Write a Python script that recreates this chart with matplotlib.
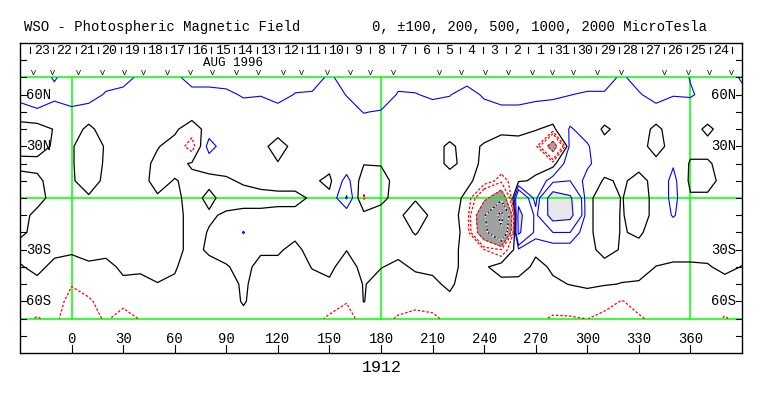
import numpy as np
import matplotlib.pyplot as plt

plt.rcParams['font.family'] = ['Liberation Mono', 'DejaVu Sans Mono']

# grid of the synoptic map (microTesla)
lons = np.arange(-30, 391, 10)
lats = np.arange(70, -71, -10)

lat70 = [150, 150, 90, 150, 150, 150, 150, 70, 70, 70, 150, 150, 150, 150, 150, 150, 150, 150, 80, 150, 150, 150,
         150, 150, 150, 150, 150, 150, 150, 150, 150, 150, 150, 150, 150, 80, 150, 150, 150, 95, 80, 80, 105]
lat60 = [150, 180, 130, 190, 150, 88, 60, 40, 40, 40, 60, 60, 75, 112, 105, 150, 94, 88, 40, 105, 185, 190,
         88, 94, 120, 105, 50, 117, 175, 175, 133, 120, 102, 88, 88, 40, 88, 150, 105, 110, 70, 70, 90]
lat50 = [40, 80, 50, 60, 50, 50, 50, 50, 50, 50, 50, 50, 50, 50, 50, 50, 50, 50, 50, 50, 105, 90,
         50, 50, 50, 50, 50, 50, 50, 50, 50, 50, 50, 50, 50, 50, 50, 50, 50, 50, 50, 50, 50]
lat40 = [-30, -40, 5, 40, -20, 40, 40, 40, 40, 15, -50, 40, 40, 40, 40, 40, 40, 40, 40, 40, 40, 40,
         40, 40, 40, 40, 40, 40, 10, 20, 5, -20, 110, 60, -15, 30, 40, -20, 40, 40, -20, 40, 40]
lat30 = [-20, -30, 10, 10, -60, 10, 30, 30, 5, -30, -150, 150, 30, 30, 30, -40, 30, 30, 30, 30, 30, 30,
         30, 30, 30, -15, 30, -10, -20, -30, -60, -700, 150, 110, 30, 30, 30, -30, 30, 30, 30, 30, 30]
lat20 = [15, 20, 30, 10, -60, 15, 30, 30, -20, -30, 10, 30, 30, 30, 30, 5, 30, 30, 30, 30, 5, 5,
         30, 30, 30, -15, 20, -10, -20, -30, -40, -40, 180, 120, 40, 30, 20, 20, 90, -10, -10, 30, 30]
lat10 = [-20, -15, 30, 10, -40, 20, 30, 30, -30, 5, -20, -20, -10, 10, 30, 30, 30, 15, -20, 140, -60, -30,
         30, 30, 30, 30, 10, -20, -150, -20, 20, 150, 200, 60, -10, 10, -20, 20, 130, -20, -20, 20, 30]
lat0 = [-30, -20, 20, 30, 10, 30, 30, 30, 10, 20, -30, 20, -30, -30, -30, -20, -20, 10, 20, 210, -110, -20,
        30, 10, 30, 20, -10, -400, -800, 400, 50, 700, 550, 20, -40, 3, -30, 20, 130, 10, 10, 30, 30]
latm10 = [-20, 15, 30, 30, 30, 30, 30, 30, 30, 30, -30, -10, 10, 20, 20, 20, 20, 30, 30, 30, 30, 30,
          20, -50, 20, 20, -20, -900, -2300, 600, 150, 650, 600, 20, -40, 5, -30, 20, 110, 30, 30, 30, 30]
latm20 = [-10, 15, 30, 30, 30, 30, 30, 30, 30, 30, -30, 5, 30, 105, 30, 30, 20, 30, 30, 30, 30, 30,
          30, -5, 30, 30, -20, -800, -1800, 550, 150, 200, 200, 20, -40, 5, -10, 30, 30, 30, 30, 30, 30]
latm30 = [20, 30, 15, 10, 20, 15, 30, 30, 30, 20, -20, 10, 25, 30, 10, 10, -20, 30, 30, 2, 30, 25,
          20, 30, 30, 30, -30, -100, -200, 80, 15, 40, 40, 20, -20, 5, 20, 20, 20, 20, 20, 30, 20]
latm40 = [-5, 15, -15, -25, -10, -15, 10, 12, 20, 10, -50, -20, -5, 20, -20, -20, -30, 3, 15, -30, 20, 3,
          -15, 10, 15, 30, -30, -20, 60, 40, -20, 10, 20, 20, 20, 20, 20, -1, -8, -8, -5, 15, -2]
latm50 = [-40, -15, -40, -95, -70, -50, -10, -18, -2, -15, -60, -50, -40, 15, -40, -40, -40, -20, -10, -60, 5, -30,
          -40, -25, -15, 15, -40, -40, -40, -30, -40, -10, 2, 10, 5, -2, -5, -40, -40, -40, -40, -20, -40]
latm60 = [-60, -60, -60, -130, -110, -70, -80, -60, -50, -50, -60, -60, -50, 10, -50, -50, -50, -50, -70, -95, 3, -50,
          -60, -75, -70, -20, -50, -60, -60, -60, -60, -60, -40, -30, -60, -105, -70, -60, -60, -60, -60, -70, -60]
latm70 = [-80, -105, -80, -150, -130, -90, -130, -95, -80, -80, -80, -80, -70, -30, -70, -70, -70, -80, -110, -140, -60, -70,
          -110, -125, -115, -80, -80, -80, -80, -80, -80, -110, -110, -98, -130, -150, -110, -80, -80, -80, -80, -105, -80]

field = np.array([lat70, lat60, lat50, lat40, lat30, lat20, lat10, lat0,
                  latm10, latm20, latm30, latm40, latm50, latm60, latm70], dtype=float)

day_labels = ['23', '22', '21', '20', '19', '18', '17', '16', '15', '14', '13', '12', '11', '10', '9', '8',
              '7', '6', '5', '4', '3', '2', '1', '31', '30', '29', '28', '27', '26', '25', '24']
v_marks = [-22, -11, 4, 18, 31, 42, 56, 69, 82, 96, 109, 123, 134, 149, 162, 174, 187,
           214, 227, 241, 254, 268, 280, 292, 306, 320, 345, 359, 371, 384]
xtick_vals = list(range(0, 361, 30))

fig = plt.figure(figsize=(7.63, 3.96), dpi=100)
ax = fig.add_axes([20 / 763, 1 - 353 / 396, 722 / 763, 310 / 396])
ax.set_xlim(-30, 390)
ax.set_ylim(-90, 90)
ax.set_xticks([])
ax.set_yticks([])
for s in ax.spines.values():
    s.set_linewidth(1.0)

X, Y = np.meshgrid(lons, lats)

# gray fills for strong field
ax.contourf(X, Y, field, levels=[-1e5, -500], colors=['#a0a0a0'], zorder=1)
ax.contourf(X, Y, field, levels=[500, 1e5], colors=['#e8e8e8'], zorder=1)

# green reference lines
green = '#00ff00'
ax.plot([-30, 390], [70, 70], color=green, lw=1.1, zorder=1.5)
ax.plot([-30, 390], [-70, -70], color=green, lw=1.1, zorder=1.5)
ax.plot([-30, 390], [0, 0], color=green, lw=1.1, zorder=1.5)
for x in [0, 180, 360]:
    ax.plot([x, x], [-70, 70], color=green, lw=1.1, zorder=1.5)

# contours
ax.contour(X, Y, field, levels=[100, 200, 500, 1000, 2000], colors='#0000ff', linewidths=0.8, zorder=2)
ax.contour(X, Y, field, levels=[0], colors='black', linewidths=0.9, zorder=2)
ax.contour(X, Y, field, levels=[-500, -200, -100], colors='#ff0000', linewidths=0.9,
           linestyles=[(0, (2, 1.5))], zorder=2)
ax.contour(X, Y, field, levels=[-2000, -1000], colors='black', linewidths=0.9, zorder=2)
ax.contour(X, Y, field, levels=[-2000, -1000], colors='white', linewidths=0.9,
           linestyles=[(0, (1.5, 1.5))], zorder=2.1)

# day ticks and labels along the top
step = 13.17
for k in range(len(day_labels) + 1):
    x = -24 + step * k
    ax.plot([x, x], [84, 87.5], color='black', lw=0.8)
for k, lab in enumerate(day_labels):
    ax.text(-24 + step * (k + 0.5), 85.6, lab, ha='center', va='center', fontsize=9.5)
ax.plot([-30, -27], [80, 80], color='black', lw=0.8)
ax.text(94, 78.3, 'AUG 1996', ha='center', va='center', fontsize=9)
for x in v_marks:
    ax.text(x, 72.2, 'V', ha='center', va='center', fontsize=6)

# side ticks and latitude labels
for la in range(-80, 81, 10):
    ax.plot([-30, -26.5], [la, la], color='black', lw=0.8, zorder=3)
    ax.plot([386.5, 390], [la, la], color='black', lw=0.8, zorder=3)
for la, lab in [(60, '60N'), (30, '30N'), (-30, '30S'), (-60, '60S')]:
    ax.text(-26.5, la, lab, ha='left', va='center', fontsize=10, zorder=3)
    ax.text(386.5, la, lab, ha='right', va='center', fontsize=10, zorder=3)

# longitude labels at the bottom
for x in xtick_vals:
    ax.plot([x, x], [-85.3, -90], color='black', lw=0.8)
    ax.text(x, -82, str(x), ha='center', va='center', fontsize=10)
ax.text(180.5, -98.5, '1912', ha='center', va='center', fontsize=12, clip_on=False)

fig.text(24 / 763, 1 - 27 / 396, 'WSO - Photospheric Magnetic Field', ha='left', va='center', fontsize=10)
fig.text(372 / 763, 1 - 27 / 396, '0, \u00b1100, 200, 500, 1000, 2000 MicroTesla', ha='left', va='center',
         fontsize=10)

fig.savefig('out.png', dpi=100)
